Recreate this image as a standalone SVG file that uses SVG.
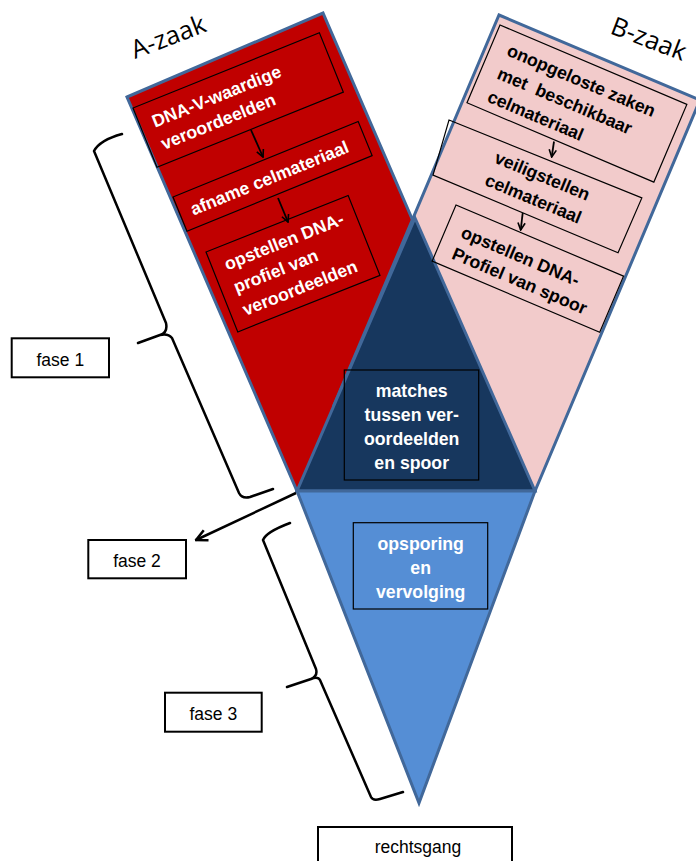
<svg xmlns="http://www.w3.org/2000/svg" width="696" height="861" viewBox="0 0 696 861">
<defs>
<style>
.shape{stroke:#41689A;stroke-width:3;stroke-linejoin:miter}
.box{fill:none;stroke:#000;stroke-width:1.2}
.lbl{fill:#fff;stroke:#000;stroke-width:2}
.tw{font-family:'Liberation Sans',Arial,sans-serif;font-weight:bold;font-size:17.7px;fill:#fff}
.tb{font-family:'Liberation Sans',Arial,sans-serif;font-weight:bold;font-size:17.7px;fill:#000}
.tc{text-anchor:middle}
.tl{font-family:'Liberation Sans',Arial,sans-serif;font-size:17.5px;fill:#000;text-anchor:middle}
.tz{font-family:'Open Sans','DejaVu Sans',sans-serif;font-size:25.5px;fill:#000}
.brace{fill:none;stroke:#000;stroke-width:2.5;stroke-linejoin:round;stroke-linecap:round}
.arr{fill:none;stroke:#000;stroke-width:1.8}
.arr2{fill:none;stroke:#000;stroke-width:2.5}
</style>
<marker id="ah" viewBox="0 0 10 10" refX="9" refY="5" markerWidth="9" markerHeight="9" markerUnits="userSpaceOnUse" orient="auto">
<path d="M1,1 L9,5 L1,9" fill="none" stroke="#000" stroke-width="1.8"/>
</marker>
<marker id="ah2" viewBox="0 0 10 10" refX="9" refY="5" markerWidth="14" markerHeight="14" markerUnits="userSpaceOnUse" orient="auto">
<path d="M1,1 L9,5 L1,9" fill="none" stroke="#000" stroke-width="1.8"/>
</marker>
</defs>
<rect width="696" height="861" fill="#fff"/>

<g id="a-zaak">
<polygon class="shape" fill="#C00000" points="127,97 323,13 493,406 297,491"/>
</g>
<g id="b-zaak">
<polygon class="shape" fill="#F2CBCB" points="499,15 700,100 535,491 334,405"/>
</g>
<g id="matches">
<polygon class="shape" fill="#17375E" points="415,218 535,491 297,491"/>
</g>
<g id="opsporing">
<polygon class="shape" fill="#558ED5" points="297,491 535,491 419,803"/>
</g>

<text class="tz" transform="rotate(-21 135 59)" x="135" y="59">A-zaak</text>
<text class="tz" transform="rotate(21 609 33)" x="609" y="33">B-zaak</text>

<g id="a1" transform="translate(133,108) rotate(-22)">
<rect class="box" x="0" y="0" width="201" height="64"/>
<text class="tw" x="13" y="26.5">DNA-V-waardige</text>
<text class="tw" x="13" y="50.5">veroordeelden</text>
</g>
<g id="a2" transform="translate(173,197) rotate(-22.2)">
<rect class="box" x="0" y="0" width="200" height="37"/>
<text class="tw" x="12" y="25">afname celmateriaal</text>
</g>
<g id="a3" transform="translate(206,252) rotate(-21.7)">
<rect class="box" x="0" y="0" width="153" height="86"/>
<text class="tw" x="13" y="25">opstellen DNA-</text>
<text class="tw" x="13" y="49.5">profiel van</text>
<text class="tw" x="13" y="74">veroordeelden</text>
</g>

<g id="b1" transform="translate(500,25) rotate(23)">
<rect class="box" x="0" y="0" width="203" height="84.5"/>
<text class="tb" x="17" y="25.5">onopgeloste zaken</text>
<text class="tb" x="17" y="50.5" xml:space="preserve">met  beschikbaar</text>
<text class="tb" x="17" y="75.5">celmateriaal</text>
</g>
<g id="b2" transform="translate(449,120) rotate(22.5)">
<polygon class="box" points="0,0 208,-1.8 207,58 6.3,57"/>
<text class="tb" x="57" y="22">veiligstellen</text>
<text class="tb" x="57" y="46.5">celmateriaal</text>
</g>
<g id="b3" transform="translate(456,205) rotate(23)">
<rect class="box" x="0" y="0" width="182" height="61"/>
<text class="tb" x="16" y="28">opstellen DNA-</text>
<text class="tb" x="16" y="51">Profiel van spoor</text>
</g>

<g id="m1">
<rect class="box" x="344.3" y="370" width="134.4" height="110"/>
<text class="tw tc" x="411.7" y="397">matches</text>
<text class="tw tc" x="411.7" y="421">tussen ver-</text>
<text class="tw tc" x="411.7" y="445">oordeelden</text>
<text class="tw tc" x="411.7" y="469">en spoor</text>
</g>
<g id="o1">
<rect class="box" x="353.3" y="522.7" width="134.4" height="86.3" stroke="#1F2F4A"/>
<text class="tw tc" x="420.7" y="549.5">opsporing</text>
<text class="tw tc" x="420.7" y="573.5">en</text>
<text class="tw tc" x="420.7" y="597.5">vervolging</text>
</g>

<g id="fase1">
<rect class="lbl" x="11.7" y="338.3" width="97.3" height="39"/>
<text class="tl" x="60.3" y="365.5">fase 1</text>
</g>
<g id="fase2">
<rect class="lbl" x="88.3" y="540" width="97.7" height="38.3"/>
<text class="tl" x="137" y="567">fase 2</text>
</g>
<g id="fase3">
<rect class="lbl" x="165" y="692.7" width="96.7" height="39"/>
<text class="tl" x="213.3" y="720">fase 3</text>
</g>
<g id="rechtsgang">
<rect class="lbl" x="318" y="827" width="194" height="50"/>
<text class="tl" x="418" y="853">rechtsgang</text>
</g>

<g id="connectors">
<line class="arr" x1="251" y1="130" x2="263" y2="157" marker-end="url(#ah)"/>
<line class="arr" x1="278" y1="198" x2="288" y2="222" marker-end="url(#ah)"/>
<line class="arr" x1="554" y1="141.5" x2="551.7" y2="157" marker-end="url(#ah)"/>
<line class="arr" x1="522.7" y1="213" x2="520.7" y2="230" marker-end="url(#ah)"/>
<line class="arr2" x1="296" y1="493" x2="196" y2="540" marker-end="url(#ah2)"/>
<path class="brace" d="M122,134 Q100,140 94,151 L166,323 Q168,333 160,335 L138,343 M160,335 Q168,333 172,338 L239,493 Q242,499 250,497 L273,489"/>
<path class="brace" d="M290,523 Q266,532 263,540 L316,669 Q318,676 311,679 L287,687 M311,679 Q318,676 320,680 L371,797 Q373,801 380,799 L403,792"/>
</g>
</svg>
